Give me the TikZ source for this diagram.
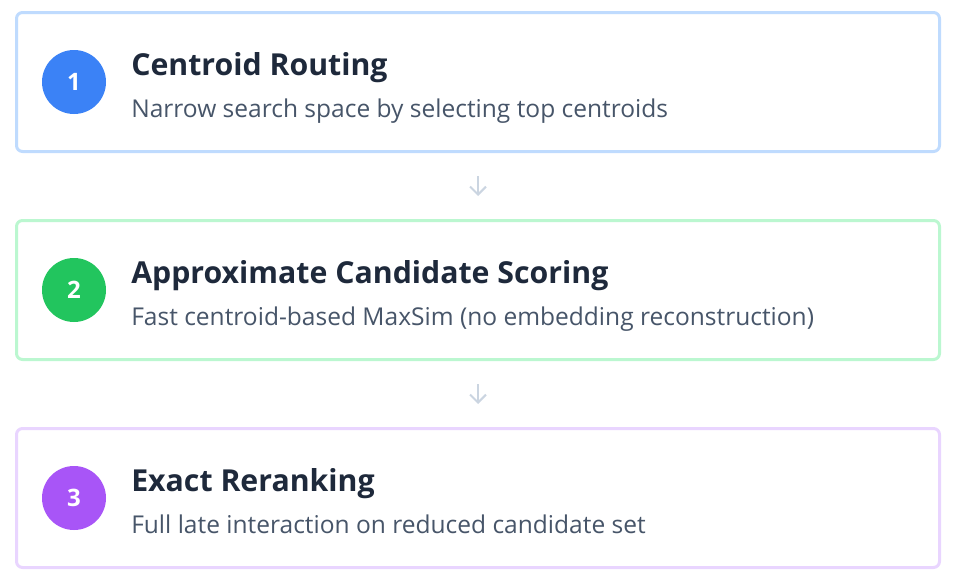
\documentclass[tikz,border=0pt]{standalone}
\usepackage{fontspec}
\setmainfont{Open Sans}
\usetikzlibrary{positioning,arrows.meta}
\definecolor{edgeblue}{HTML}{BFDBFE}
\definecolor{edgegreen}{HTML}{BBF7D0}
\definecolor{edgepurple}{HTML}{E9D5FF}
\definecolor{dotblue}{HTML}{3B82F6}
\definecolor{dotgreen}{HTML}{22C55E}
\definecolor{dotpurple}{HTML}{A855F7}
\definecolor{titlegray}{HTML}{1E293B}
\definecolor{subgray}{HTML}{475569}
\definecolor{arrowgray}{HTML}{CBD5E1}

\begin{document}
\begin{tikzpicture}[x=0.75pt,y=-0.75pt,
    stage/.style={draw,line width=2.25pt,rounded corners=4.5pt,minimum width=692.25pt,minimum height=104.25pt,fill=white},
    badge/.style={circle,minimum size=48pt,inner sep=0pt,text=white,font=\bfseries\fontsize{18}{18}\selectfont},
    title/.style={anchor=base west,inner sep=0pt,text=titlegray,font=\bfseries\fontsize{22.7}{24}\selectfont},
    sub/.style={anchor=base west,inner sep=0pt,text=subgray,font=\fontsize{18.4}{20}\selectfont},
    flow/.style={draw=arrowgray,line width=1.5pt,-{Straight Barb[length=6pt,width=12pt]},shorten <=17.25pt,shorten >=17.25pt}]
    \useasboundingbox (0,0) rectangle (954,578);
    % the three stages
    \node[stage,draw=edgeblue] (routing) at (478,82) {};
    \node[stage,draw=edgegreen,below=49.5pt of routing] (scoring) {};
    \node[stage,draw=edgepurple,below=49.5pt of scoring] (rerank) {};
    % numbered badges
    \node[badge,fill=dotblue] (b1) at ([xshift=44.25pt]routing.west) {1};
    \node[badge,fill=dotgreen] (b2) at ([xshift=44.25pt]scoring.west) {2};
    \node[badge,fill=dotpurple] (b3) at ([xshift=44.25pt]rerank.west) {3};
    % titles and descriptions
    \node[title] (t1) at ([xshift=87pt,yshift=5.25pt]routing.west) {Centroid Routing};
    \node[sub] (s1) at ([xshift=87pt,yshift=-26.25pt]routing.west) {Narrow search space by selecting top centroids};
    \node[title] (t2) at ([xshift=87pt,yshift=5.25pt]scoring.west) {Approximate Candidate Scoring};
    \node[sub] (s2) at ([xshift=87pt,yshift=-26.25pt]scoring.west) {Fast centroid-based MaxSim (no embedding reconstruction)};
    \node[title] (t3) at ([xshift=87pt,yshift=5.25pt]rerank.west) {Exact Reranking};
    \node[sub] (s3) at ([xshift=87pt,yshift=-26.25pt]rerank.west) {Full late interaction on reduced candidate set};
    % arrows
    \draw[flow] (routing) -- (scoring);
    \draw[flow] (scoring) -- (rerank);
\end{tikzpicture}
\end{document}
